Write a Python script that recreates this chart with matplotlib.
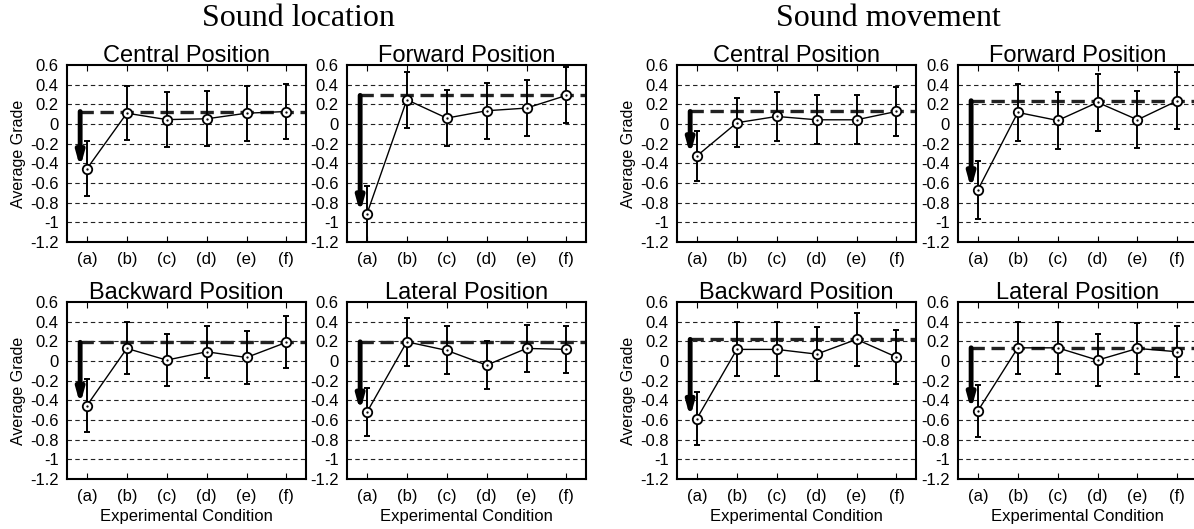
import numpy as np
import matplotlib
matplotlib.use('Agg')
import matplotlib.pyplot as plt

# categories et valeurs
conditions = ['(a)', '(b)', '(c)', '(d)', '(e)', '(f)']
yticks = [0.6, 0.4, 0.2, 0, -0.2, -0.4, -0.6, -0.8, -1, -1.2]
ytick_labels = ['0.6', '0.4', '0.2', '0', '-0.2', '-0.4', '-0.6', '-0.8', '-1', '-1.2']

loc_central_mean = [-0.455, 0.11, 0.045, 0.053, 0.11, 0.127]
loc_central_err = [0.28, 0.277, 0.282, 0.28, 0.278, 0.278]
loc_forward_mean = [-0.915, 0.247, 0.06, 0.135, 0.162, 0.291]
loc_forward_err = [0.283, 0.283, 0.283, 0.283, 0.283, 0.285]
loc_backward_mean = [-0.453, 0.128, 0.009, 0.094, 0.036, 0.19]
loc_backward_err = [0.265, 0.265, 0.263, 0.263, 0.265, 0.263]
loc_lateral_mean = [-0.521, 0.195, 0.108, -0.042, 0.128, 0.118]
loc_lateral_err = [0.243, 0.245, 0.243, 0.244, 0.243, 0.243]

mov_central_mean = [-0.324, 0.013, 0.077, 0.043, 0.043, 0.128]
mov_central_err = [0.251, 0.25, 0.25, 0.25, 0.25, 0.248]
mov_forward_mean = [-0.67, 0.118, 0.036, 0.22, 0.043, 0.237]
mov_forward_err = [0.292, 0.287, 0.288, 0.29, 0.288, 0.287]
mov_backward_mean = [-0.585, 0.118, 0.118, 0.07, 0.22, 0.04]
mov_backward_err = [0.272, 0.275, 0.275, 0.271, 0.273, 0.271]
mov_lateral_mean = [-0.507, 0.134, 0.134, 0.009, 0.128, 0.094]
mov_lateral_err = [0.263, 0.262, 0.262, 0.262, 0.263, 0.26]

plt.rcParams['font.family'] = ['Liberation Sans', 'DejaVu Sans']

fig = plt.figure(figsize=(11.94, 5.29), dpi=100)

# positions des axes (fraction de la figure)
cols = [0.0561, 0.2906, 0.567, 0.8023]
rows = [0.5425, 0.0945]
w = 0.2005
h = 0.3346


def panneau(ax, title, mean, err, ylab, xlab):
    x = np.arange(len(conditions))
    for v in yticks[1:-1]:
        ax.axhline(v, color='#222222', lw=0.8, dashes=(4, 3), zorder=1)
    top = max(mean)
    xa = x[0] - 0.17
    ax.plot([xa, 5.5], [top, top], color='#222222', lw=2.4, dashes=(4, 2), zorder=2)
    ax.annotate('', xy=(xa, mean[0] + 0.01), xytext=(xa, top),
                arrowprops=dict(arrowstyle='-|>,head_width=0.22,head_length=0.8',
                                color='black', lw=3.5, shrinkA=0, shrinkB=0), zorder=3)
    ax.errorbar(x, mean, yerr=err, fmt='-', color='black', lw=1.0, elinewidth=1.4,
                capsize=2.5, capthick=1.4, zorder=4)
    ax.plot(x, mean, 'o', ms=6.8, mfc='white', mec='black', mew=1.3, zorder=5)
    ax.plot(x, mean, '.', ms=1.3, color='black', zorder=6)
    ax.set_xlim(-0.5, 5.5)
    ax.set_ylim(-1.2, 0.6)
    ax.set_xticks(x)
    ax.set_xticklabels(conditions, fontsize=12)
    ax.set_yticks(yticks)
    ax.set_yticklabels(ytick_labels, fontsize=12)
    ax.tick_params(axis='x', direction='in', top=True, length=4, width=0.8, pad=7)
    ax.tick_params(axis='y', direction='in', right=True, length=0, pad=6)
    for s in ax.spines.values():
        s.set_linewidth(1.5)
    ax.set_title(title, fontsize=17, pad=2)
    if ylab:
        ax.set_ylabel('Average Grade', fontsize=11.5, labelpad=3)
    if xlab:
        ax.set_xlabel('Experimental Condition', fontsize=12, labelpad=4)


groupes = [
    [('Central Position', loc_central_mean, loc_central_err),
     ('Forward Position', loc_forward_mean, loc_forward_err),
     ('Backward Position', loc_backward_mean, loc_backward_err),
     ('Lateral Position', loc_lateral_mean, loc_lateral_err)],
    [('Central Position', mov_central_mean, mov_central_err),
     ('Forward Position', mov_forward_mean, mov_forward_err),
     ('Backward Position', mov_backward_mean, mov_backward_err),
     ('Lateral Position', mov_lateral_mean, mov_lateral_err)],
]

for g in range(2):
    for k in range(4):
        i, j = k // 2, k % 2
        ax = fig.add_axes([cols[2 * g + j], rows[i], w, h])
        t, m, e = groupes[g][k]
        panneau(ax, t, m, e, j == 0, i == 1)

fig.text(298 / 1194, 1 - 18 / 529, 'Sound location', ha='center', va='center',
         fontsize=23, family='Liberation Serif')
fig.text(888 / 1194, 1 - 18 / 529, 'Sound movement', ha='center', va='center',
         fontsize=23, family='Liberation Serif')

fig.savefig('out.png', dpi=100)
